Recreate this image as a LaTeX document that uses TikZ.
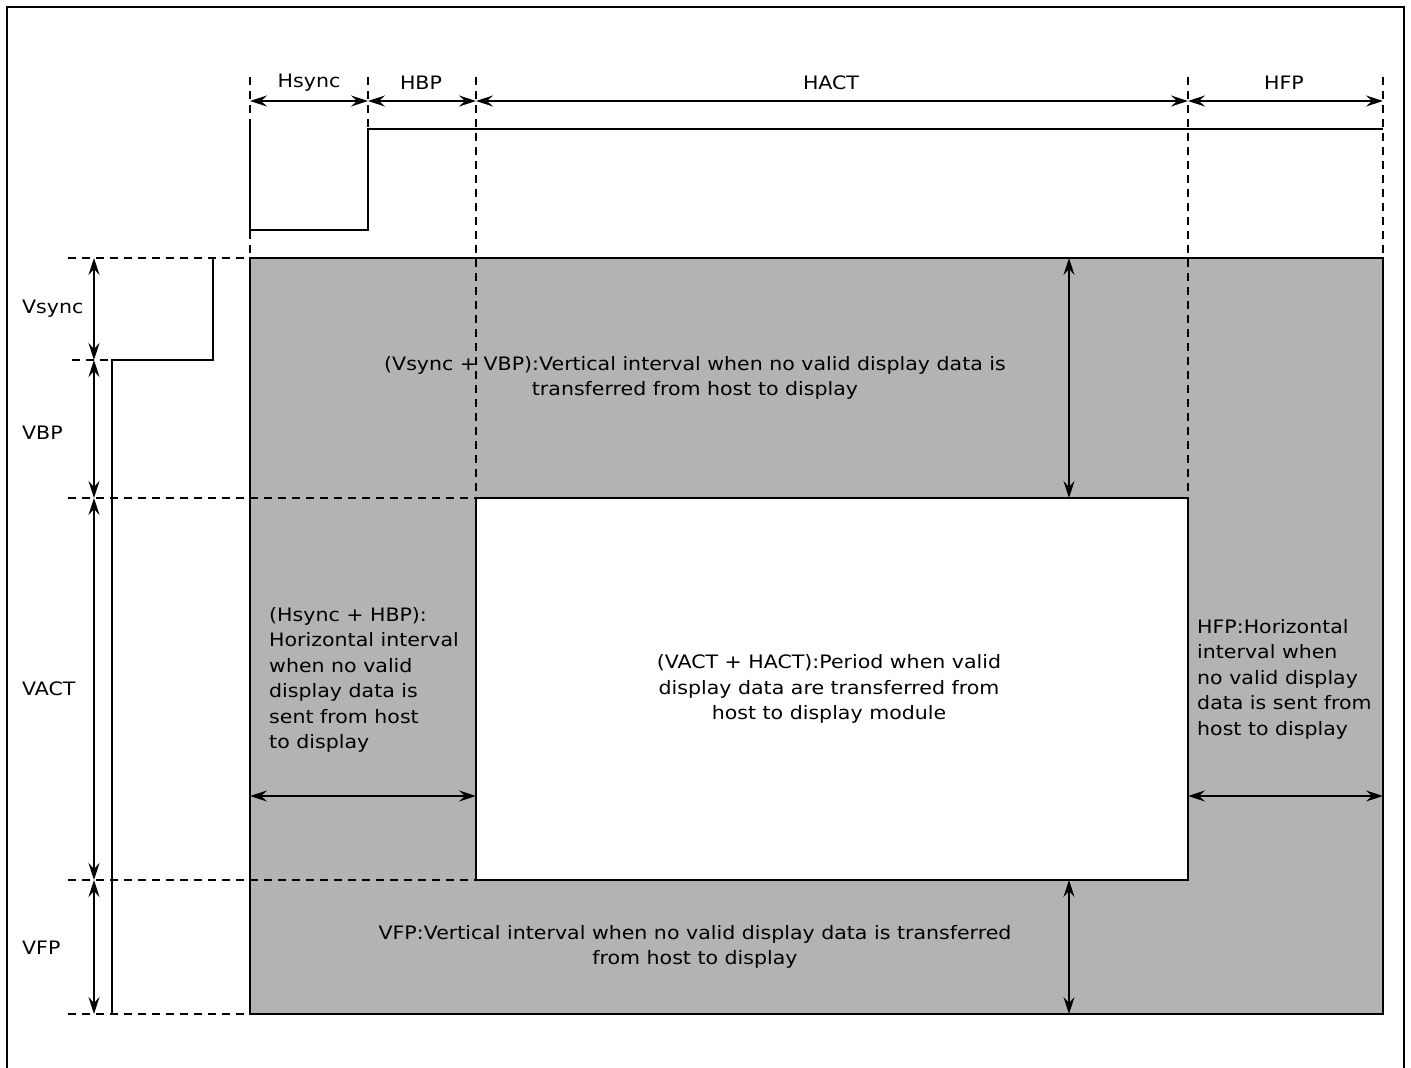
\documentclass[tikz,border=0pt]{standalone}
\usepackage{fontspec}
\setmainfont[FakeStretch=1.11]{DejaVu Sans}
\usetikzlibrary{arrows.meta}
\definecolor{graybg}{HTML}{B3B3B3}
\tikzset{
  lbl/.style={font=\fontsize{18.5}{25.5}\selectfont, inner sep=0pt},
  dim/.style={line width=1.6pt, {Stealth[length=17pt,width=11pt,inset=6pt]}-{Stealth[length=17pt,width=11pt,inset=6pt]}},
  guide/.style={line width=1.6pt, dash pattern=on 8pt off 6pt},
  sig/.style={line width=1.6pt},
}
\begin{document}
\begin{tikzpicture}[x=1pt,y=-1pt]
\useasboundingbox (0,0) rectangle (1411,1068);
% outer frame
\draw[line width=1.6pt] (7,1080) -- (7,7) -- (1404,7) -- (1404,1080);
% gray region and white active area
\fill[graybg] (250,258) rectangle (1383,1014);
\draw[line width=1.6pt,fill=white] (476,498) rectangle (1188,880);
\draw[line width=1.6pt] (250,258) rectangle (1383,1014);
% key coordinates
\coordinate (hs0) at (250,101); \coordinate (hs1) at (368,101);
\coordinate (hb1) at (476,101); \coordinate (ha1) at (1188,101);
\coordinate (hf1) at (1383,101);
\coordinate (vs0) at (94,258); \coordinate (vs1) at (94,360);
\coordinate (vb1) at (94,498); \coordinate (va1) at (94,880);
\coordinate (vf1) at (94,1014);
% vertical guides
\draw[guide] (250,77) -- (250,258);
\draw[guide] (368,77) -- (368,129);
\draw[guide] (476,77) -- (476,498);
\draw[guide] (1188,77) -- (1188,498);
\draw[guide] (1383,77) -- (1383,258);
% horizontal guides
\draw[guide] (68,258) -- (250,258);
\draw[guide] (72,360) -- (112,360);
\draw[guide] (68,498) -- (476,498);
\draw[guide] (68,880) -- (476,880);
\draw[guide] (68,1014) -- (250,1014);
% Hsync signal
\draw[sig] (250,125) -- (250,230) -- (368,230) -- (368,129) -- (1383,129);
% Vsync signal
\draw[sig] (213,258) -- (213,360) -- (112,360) -- (112,1014);
% horizontal dimension arrows
\draw[dim] (hs0) -- (hs1);
\draw[dim] (hs1) -- (hb1);
\draw[dim] (hb1) -- (ha1);
\draw[dim] (ha1) -- (hf1);
\node[lbl] (lhs) at (309,83) {Hsync};
\node[lbl] (lhb) at (421,83) {HBP};
\node[lbl] (lha) at (831,83) {HACT};
\node[lbl] (lhf) at (1284,83) {HFP};
% vertical dimension arrows
\draw[dim] (vs0) -- (vs1);
\draw[dim] (vs1) -- (vb1);
\draw[dim] (vb1) -- (va1);
\draw[dim] (va1) -- (vf1);
\node[lbl,anchor=west] (lvs) at (22,309) {Vsync};
\node[lbl,anchor=west] (lvb) at (22,433) {VBP};
\node[lbl,anchor=west] (lva) at (22,689) {VACT};
\node[lbl,anchor=west] (lvf) at (22,948) {VFP};
% inner arrows
\coordinate (t0) at (1069,258); \coordinate (t1) at (1069,498);
\coordinate (b0) at (1069,880); \coordinate (b1) at (1069,1014);
\coordinate (l0) at (250,796); \coordinate (l1) at (476,796);
\coordinate (r0) at (1188,796); \coordinate (r1) at (1383,796);
\draw[dim] (t0) -- (t1);
\draw[dim] (b0) -- (b1);
\draw[dim] (l0) -- (l1);
\draw[dim] (r0) -- (r1);
% descriptive texts
\node[lbl,align=center] (ttop) at (695,378) {(Vsync + VBP):Vertical interval when no valid display data is\\transferred from host to display};
\node[lbl,align=center] (tmid) at (829,689) {(VACT + HACT):Period when valid\\display data are transferred from\\host to display module};
\node[lbl,align=center] (tbot) at (695,947) {VFP:Vertical interval when no valid display data is transferred\\from host to display};
\node[lbl,align=left,anchor=west] (tleft) at (269,680) {(Hsync + HBP):\\Horizontal interval\\when no valid\\display data is\\sent from host\\to display};
\node[lbl,align=left,anchor=west] (tright) at (1197,679) {HFP:Horizontal\\interval when\\no valid display\\data is sent from\\host to display};
\end{tikzpicture}
\end{document}
